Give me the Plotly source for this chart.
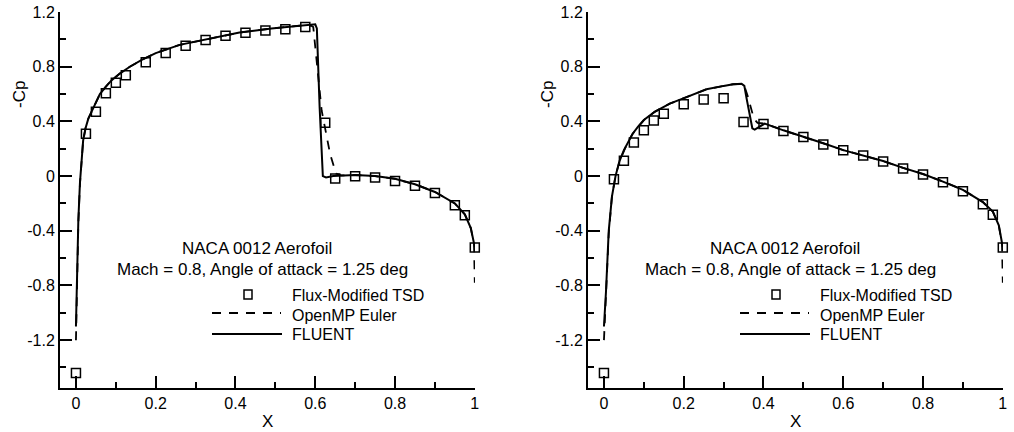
import plotly.graph_objects as go

# ---------------- data ----------------
# Left panel (shock near x = 0.6)
tsd_left_x = [0.0, 0.025, 0.05, 0.075, 0.1, 0.125, 0.175, 0.225, 0.275, 0.325, 0.375,
              0.425, 0.475, 0.525, 0.575, 0.625, 0.65, 0.7, 0.75, 0.8, 0.85, 0.9,
              0.95, 0.975, 1.0]
tsd_left_cp = [-1.44, 0.31, 0.47, 0.607, 0.683, 0.737, 0.832, 0.90, 0.954, 0.995, 1.027,
               1.049, 1.066, 1.075, 1.09, 0.39, -0.018, -0.001, -0.011, -0.036, -0.07,
               -0.123, -0.213, -0.287, -0.523]

fluent_left_x = [0.0, 0.002, 0.006, 0.01, 0.014, 0.018, 0.024, 0.031, 0.039, 0.05, 0.06,
                 0.075, 0.089, 0.11, 0.135, 0.165, 0.2, 0.26, 0.33, 0.41, 0.49, 0.56,
                 0.6, 0.604, 0.611, 0.619, 0.627, 0.645, 0.7, 0.75, 0.8, 0.85, 0.9,
                 0.95, 0.975, 0.99, 1.0]
fluent_left_cp = [-1.10, -0.80, -0.32, -0.05, 0.14, 0.26, 0.35, 0.42, 0.47, 0.54, 0.60,
                  0.655, 0.70, 0.75, 0.80, 0.85, 0.90, 0.96, 1.00, 1.05, 1.08, 1.10,
                  1.11, 1.08, 0.50, 0.0, -0.01, 0.0, 0.008, 0.0, -0.02, -0.06, -0.116,
                  -0.20, -0.28, -0.38, -0.52]

euler_left_x = [0.0, 0.002, 0.006, 0.01, 0.014, 0.018, 0.024, 0.031, 0.039, 0.05, 0.06,
                0.075, 0.089, 0.11, 0.135, 0.165, 0.2, 0.26, 0.33, 0.41, 0.49, 0.56,
                0.59, 0.595, 0.616, 0.637, 0.652, 0.665, 0.7, 0.75, 0.8, 0.85, 0.9,
                0.95, 0.975, 0.99, 0.998, 1.0]
euler_left_cp = [-1.20, -0.85, -0.34, -0.06, 0.14, 0.26, 0.35, 0.42, 0.47, 0.54, 0.60,
                 0.655, 0.70, 0.75, 0.80, 0.85, 0.90, 0.96, 1.00, 1.05, 1.08, 1.10,
                 1.10, 1.09, 0.48, 0.165, 0.018, 0.005, 0.008, 0.0, -0.02, -0.06,
                 -0.116, -0.20, -0.28, -0.38, -0.50, -0.78]

# Right panel (shock near x = 0.36)
tsd_right_x = [0.0, 0.025, 0.05, 0.075, 0.1, 0.125, 0.15, 0.2, 0.25, 0.3, 0.35, 0.4,
               0.45, 0.5, 0.55, 0.6, 0.65, 0.7, 0.75, 0.8, 0.85, 0.9, 0.95, 0.975, 1.0]
tsd_right_cp = [-1.44, -0.023, 0.113, 0.245, 0.335, 0.406, 0.457, 0.525, 0.561, 0.569,
                0.395, 0.381, 0.33, 0.286, 0.232, 0.189, 0.15, 0.106, 0.055, 0.011,
                -0.045, -0.111, -0.206, -0.282, -0.523]

fluent_right_x = [0.0, 0.005, 0.012, 0.02, 0.029, 0.039, 0.05, 0.06, 0.072, 0.085, 0.1,
                  0.127, 0.165, 0.207, 0.257, 0.30, 0.324, 0.345, 0.352, 0.357, 0.366,
                  0.372, 0.378, 0.39, 0.403, 0.45, 0.5, 0.55, 0.6, 0.65, 0.7, 0.75,
                  0.8, 0.85, 0.9, 0.95, 0.975, 0.99, 1.0]
fluent_right_cp = [-1.10, -0.85, -0.40, -0.15, 0.0, 0.11, 0.19, 0.25, 0.31, 0.36, 0.41,
                   0.47, 0.53, 0.578, 0.635, 0.66, 0.672, 0.676, 0.66, 0.578, 0.43,
                   0.35, 0.34, 0.364, 0.384, 0.335, 0.29, 0.24, 0.19, 0.15, 0.11,
                   0.06, 0.015, -0.04, -0.10, -0.19, -0.26, -0.36, -0.52]

euler_right_x = [0.0, 0.005, 0.012, 0.02, 0.029, 0.039, 0.05, 0.06, 0.072, 0.085, 0.1,
                 0.127, 0.165, 0.207, 0.257, 0.30, 0.324, 0.345, 0.352, 0.36, 0.368,
                 0.376, 0.385, 0.403, 0.45, 0.5, 0.55, 0.6, 0.65, 0.7, 0.75, 0.8,
                 0.85, 0.9, 0.95, 0.975, 0.99, 0.998, 1.0]
euler_right_cp = [-1.20, -0.88, -0.42, -0.15, 0.0, 0.11, 0.19, 0.25, 0.31, 0.36, 0.41,
                  0.47, 0.53, 0.578, 0.635, 0.66, 0.672, 0.674, 0.66, 0.59, 0.50,
                  0.42, 0.39, 0.384, 0.335, 0.29, 0.24, 0.19, 0.15, 0.11, 0.06,
                  0.015, -0.04, -0.10, -0.19, -0.26, -0.36, -0.50, -0.78]

x_tickvals = [0, 0.2, 0.4, 0.6, 0.8, 1.0]
x_ticktext = ["0", "0.2", "0.4", "0.6", "0.8", "1"]
y_tickvals = [-1.2, -0.8, -0.4, 0, 0.4, 0.8, 1.2]
y_ticktext = ["-1.2", "-0.8", "-0.4", "0", "0.4", "0.8", "1.2"]

title_line1 = "NACA 0012 Aerofoil"
title_line2 = "Mach = 0.8, Angle of attack = 1.25 deg"
legend_names = ["Flux-Modified TSD", "OpenMP Euler", "FLUENT"]

# ---------------- figure ----------------
W, H = 1014, 432
OFF = 0  # page body margin removed via post_script
FONT = "Liberation Sans, Arial, Helvetica, sans-serif"


def px(x):
    return (x - OFF) / W


def py(y):
    return 1 - (y - OFF) / H


fig = go.Figure()

panels = [
    ("x", "y", tsd_left_x, tsd_left_cp, fluent_left_x, fluent_left_cp, euler_left_x, euler_left_cp),
    ("x2", "y2", tsd_right_x, tsd_right_cp, fluent_right_x, fluent_right_cp, euler_right_x, euler_right_cp),
]

for xa, ya, tx, tc, fx, fc, ex, ec in panels:
    fig.add_trace(go.Scatter(x=fx, y=fc, mode="lines", xaxis=xa, yaxis=ya,
                             line=dict(color="black", width=2), name=legend_names[2],
                             showlegend=False))
    fig.add_trace(go.Scatter(x=ex, y=ec, mode="lines", xaxis=xa, yaxis=ya,
                             line=dict(color="black", width=1.8, dash="9px,8px"),
                             name=legend_names[1], showlegend=False))
    fig.add_trace(go.Scatter(x=tx, y=tc, mode="markers", xaxis=xa, yaxis=ya,
                             marker=dict(symbol="square-open", size=9, color="black",
                                         line=dict(color="black", width=1.5)),
                             name=legend_names[0], showlegend=False, cliponaxis=False))

x_dom = [[px(60), px(475)], [px(588), px(1003)]]
y_dom = [py(388), py(12)]

axis_common = dict(showline=True, linecolor="black", linewidth=2, showgrid=False,
                   zeroline=False, ticks="inside", tickcolor="black", tickwidth=2,
                   ticklen=12, tickfont=dict(family=FONT, size=16, color="black"),
                   mirror=False, automargin=False, ticklabeloverflow="allow")

for i, (xa, ya) in enumerate([("xaxis", "yaxis"), ("xaxis2", "yaxis2")]):
    xname = "x" if i == 0 else "x2"
    yname = "y" if i == 0 else "y2"
    fig.layout[xa] = dict(axis_common, domain=x_dom[i], range=[-0.04, 1.0005],
                          anchor=yname, tickmode="array", tickvals=x_tickvals,
                          ticktext=x_ticktext,
                          minor=dict(tickmode="linear", tick0=0, dtick=0.1, ticks="inside",
                                     ticklen=6, tickwidth=1.5, tickcolor="black"))
    fig.layout[ya] = dict(axis_common, domain=y_dom, range=[-1.55, 1.2005],
                          anchor=xname, tickmode="array", tickvals=y_tickvals,
                          ticktext=y_ticktext,
                          minor=dict(tickmode="linear", tick0=0, dtick=0.2, ticks="inside",
                                     ticklen=6, tickwidth=1.5, tickcolor="black"))

annotations = []
shapes = []
for off in (0, 528):
    # axis titles
    annotations.append(dict(x=px(19 + off), y=py(95), xref="paper", yref="paper",
                            text="-Cp", textangle=-90, showarrow=False,
                            font=dict(family=FONT, size=17, color="black"),
                            xanchor="center", yanchor="middle"))
    annotations.append(dict(x=px(267 + off), y=py(421), xref="paper", yref="paper",
                            text="X", showarrow=False,
                            font=dict(family=FONT, size=17, color="black"),
                            xanchor="center", yanchor="middle"))
    # title text
    annotations.append(dict(x=px(257 + off), y=py(248), xref="paper", yref="paper",
                            text=title_line1, showarrow=False,
                            font=dict(family=FONT, size=17, color="black"),
                            xanchor="center", yanchor="middle"))
    annotations.append(dict(x=px(262 + off), y=py(269), xref="paper", yref="paper",
                            text=title_line2, showarrow=False,
                            font=dict(family=FONT, size=17, color="black"),
                            xanchor="center", yanchor="middle"))
    # legend texts
    for name, yy in zip(legend_names, (295, 315, 334)):
        annotations.append(dict(x=px(290 + off), y=py(yy), xref="paper", yref="paper",
                                text=name, showarrow=False,
                                font=dict(family=FONT, size=16, color="black"),
                                xanchor="left", yanchor="middle"))
    # legend keys
    shapes.append(dict(type="rect", xref="paper", yref="paper",
                       x0=px(244 + off), x1=px(252 + off), y0=py(299), y1=py(290),
                       line=dict(color="black", width=1.5), fillcolor="rgba(0,0,0,0)"))
    shapes.append(dict(type="line", xref="paper", yref="paper",
                       x0=px(212 + off), x1=px(281 + off), y0=py(313), y1=py(313),
                       line=dict(color="black", width=2, dash="9px,8px")))
    shapes.append(dict(type="line", xref="paper", yref="paper",
                       x0=px(212 + off), x1=px(282 + off), y0=py(334), y1=py(334),
                       line=dict(color="black", width=2)))

fig.update_layout(width=W, height=H, margin=dict(l=0, r=0, t=0, b=0),
                  paper_bgcolor="white", plot_bgcolor="white",
                  annotations=annotations, shapes=shapes, showlegend=False,
                  font=dict(family=FONT, color="black"))

fig.write_html("out.html", config={"displayModeBar": False},
               post_script="document.body.style.margin='0';document.body.style.overflow='hidden';")
